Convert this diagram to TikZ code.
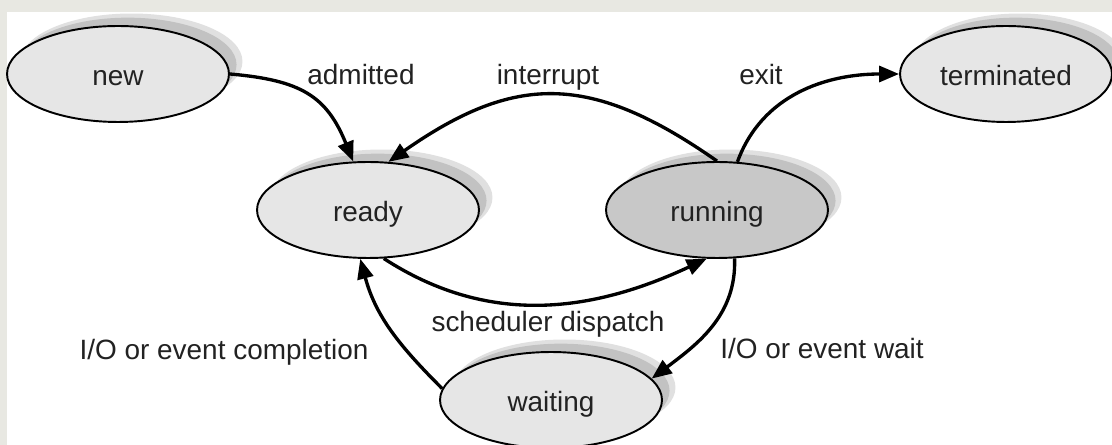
\documentclass[tikz,border=0pt]{standalone}
\usepackage{fontspec}
\setmainfont{Liberation Sans}
\usetikzlibrary{shapes.geometric}
\usetikzlibrary{arrows.meta}
\usetikzlibrary{shadows}
\definecolor{frame}{RGB}{232,232,226}
\definecolor{statefill}{RGB}{230,230,230}
\definecolor{runfill}{RGB}{200,200,200}
\definecolor{ink}{RGB}{34,34,34}
\begin{document}
\begin{tikzpicture}[x=0.02cm,y=0.02cm,
  every node/.style={font=\fontsize{15.9}{19}\selectfont,text=ink},
  state/.style={draw,ellipse,line width=1.1pt,fill=statefill,minimum width=4.44cm,minimum height=1.92cm,inner sep=0pt,text height=12.7pt,text depth=0pt,
    drop shadow={shadow xshift=0.27cm,shadow yshift=0.25cm,fill=black!12,opacity=1},
    drop shadow={shadow xshift=0.2cm,shadow yshift=0.19cm,shadow scale=0.98,fill=black!24,opacity=1}},
  trans/.style={line width=1.9pt,-{Triangle[length=0.4cm,width=0.32cm]}},
  lbl/.style={anchor=base}]
\useasboundingbox (0,0) rectangle (1112,-445);
\fill[frame] (0,0) rectangle (1112,-445);
\fill[white] (7,-12) rectangle (1112,-445);

\node[state] (new) at (118,-74) {new};
\node[state,minimum width=4.24cm] (terminated) at (1006,-74) {terminated};
\node[state] (ready) at (368,-210) {ready};
\node[state,fill=runfill] (running) at (717,-210) {running};
\node[state] (waiting) at (551,-400) {waiting};

\node[lbl] (admitted) at (361,-85) {admitted};
\node[lbl] (interrupt) at (548,-85) {interrupt};
\node[lbl] (exit) at (761,-85) {exit};
\node[lbl] (dispatch) at (548,-332) {scheduler dispatch};
\node[lbl] (completion) at (224,-360) {I/O or event completion};
\node[lbl] (eventwait) at (822,-359) {I/O or event wait};

\draw[trans] (new.east) to[out=-5,in=112,looseness=1.2] (ready.107);
\draw[trans] (running.90) to[out=145,in=35,looseness=1.2] (ready.67);
\draw[trans] (running.67) to[out=70,in=180] (terminated.west);
\draw[trans] (ready.-72) to[out=-33,in=-155] (running.-102);
\draw[trans] (running.-70) to[out=-88,in=37] (waiting.12);
\draw[trans] (waiting.174) to[out=135,in=-75] (ready.-99);
\end{tikzpicture}
\end{document}
